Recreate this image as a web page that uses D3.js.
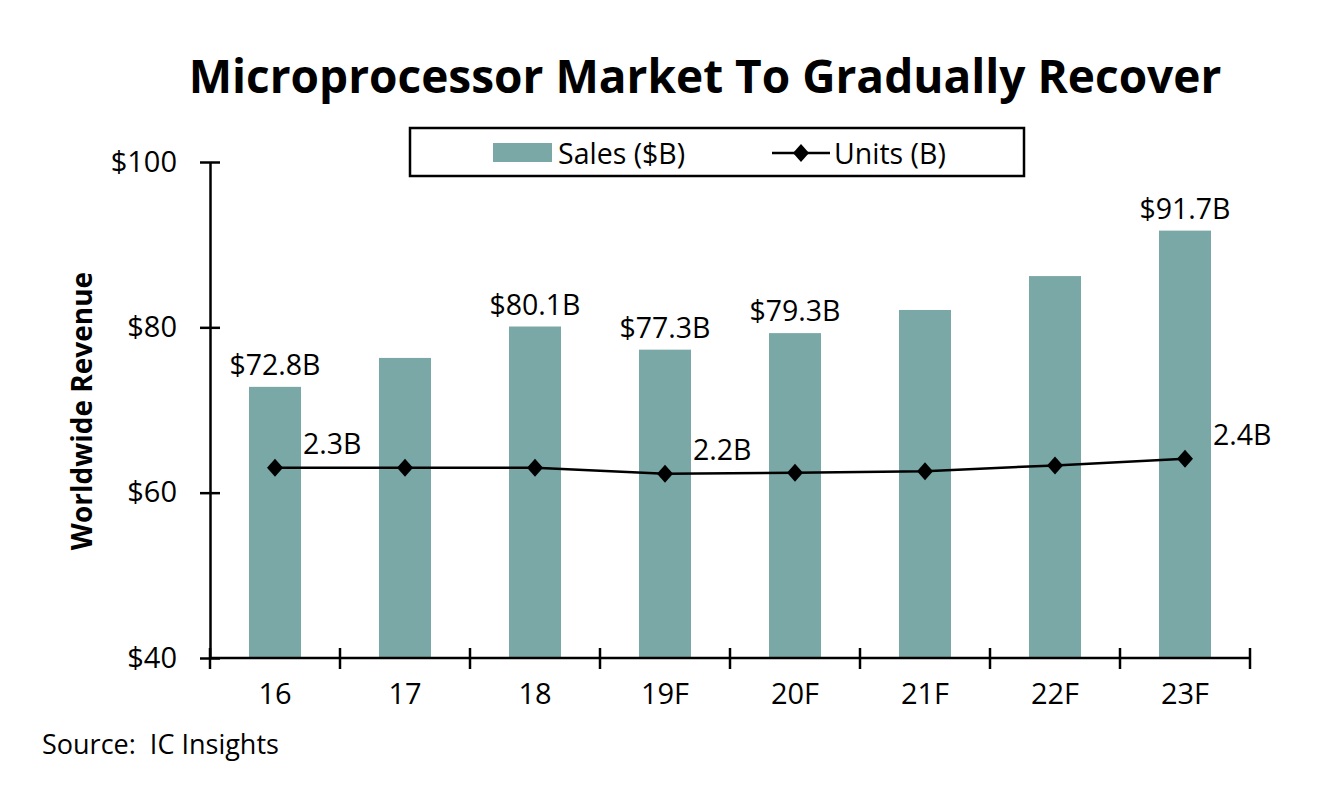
<!DOCTYPE html>
<html>
<head>
<meta charset="utf-8">
<script src="https://d3js.org/d3.v7.min.js"></script>
<style>
    body { margin: 0; background: #fff; }
    svg text { font-family: "Open Sans", sans-serif; fill: #000; }
    .axis path { stroke: #000; stroke-width: 2.5px; }
    .axis line { stroke: #000; stroke-width: 2.5px; }
    .axis text { font-size: 29px; }
</style>
</head>
<body>
<script>
    // data
    const categories = ["16", "17", "18", "19F", "20F", "21F", "22F", "23F"];
    const sales = [72.8, 76.3, 80.1, 77.3, 79.3, 82.1, 86.2, 91.7];
    const salesLabels = ["$72.8B", "", "$80.1B", "$77.3B", "$79.3B", "", "", "$91.7B"];
    const units = [2.30, 2.30, 2.30, 2.23, 2.24, 2.26, 2.33, 2.41];
    const unitLabels = ["2.3B", "", "", "2.2B", "", "", "", "2.4B"];
    const yTicks = [40, 60, 80, 100];

    const width = 1334, height = 798;
    const plotLeft = 210, plotRight = 1250, plotTop = 162, plotBottom = 658;

    const svg = d3.select("body").append("svg")
        .attr("width", width)
        .attr("height", height);

    // scales
    let x = d3.scaleBand()
        .domain(categories)
        .range([plotLeft, plotRight])
        .paddingInner(0.6)
        .paddingOuter(0.3);
    let xEdge = d3.scaleBand().domain(categories).range([plotLeft, plotRight]).padding(0);

    let y = d3.scaleLinear().domain([40, 100]).range([plotBottom, plotTop]);
    // hidden secondary axis for units
    let y2 = d3.scaleLinear().domain([0, 6]).range([plotBottom, plotTop]);

    // title
    svg.append("text")
        .attr("x", 705).attr("y", 93)
        .attr("text-anchor", "middle")
        .style("font-size", "46px")
        .style("font-weight", "bold")
        .text("Microprocessor Market To Gradually Recover");

    // legend
    let lg = svg.append("g");
    lg.append("rect")
        .attr("x", 410).attr("y", 128).attr("width", 614).attr("height", 48)
        .attr("fill", "#fff").attr("stroke", "#000").attr("stroke-width", 2.5);
    lg.append("rect")
        .attr("x", 493).attr("y", 143).attr("width", 59).attr("height", 19)
        .attr("fill", "#79a8a6");
    lg.append("text").attr("x", 558).attr("y", 164).style("font-size", "28.5px").text("Sales ($B)");
    lg.append("line")
        .attr("x1", 772).attr("x2", 830).attr("y1", 153).attr("y2", 153)
        .attr("stroke", "#000").attr("stroke-width", 2.5);
    lg.append("path")
        .attr("d", "M0,-9L8,0L0,9L-8,0Z")
        .attr("transform", "translate(801,153)");
    lg.append("text").attr("x", 834).attr("y", 164).style("font-size", "28.5px").text("Units (B)");

    // bars
    svg.selectAll("rect.bar")
        .data(categories)
        .join("rect")
        .attr("class", "bar")
        .attr("x", d => x(d))
        .attr("width", x.bandwidth())
        .attr("y", (d, i) => y(sales[i]))
        .attr("height", (d, i) => y(40) - y(sales[i]))
        .attr("fill", "#79a8a6");

    svg.selectAll("text.slab")
        .data(categories)
        .join("text")
        .attr("class", "slab")
        .attr("x", d => x(d) + x.bandwidth() / 2)
        .attr("y", (d, i) => y(sales[i]) - 12)
        .attr("text-anchor", "middle")
        .style("font-size", "28.5px")
        .text((d, i) => salesLabels[i]);

    // y axis
    let yAxis = d3.axisLeft(y)
        .tickValues(yTicks)
        .tickFormat(d => "$" + d)
        .tickSizeInner(10)
        .tickSizeOuter(0)
        .tickPadding(23);
    let ya = svg.append("g")
        .attr("class", "axis")
        .attr("transform", "translate(" + plotLeft + ",0)")
        .call(yAxis);
    ya.selectAll(".tick line").attr("x1", 10);

    // x axis
    let xAxis = d3.axisBottom(x).tickSize(0).tickPadding(25);
    let xa = svg.append("g")
        .attr("class", "axis")
        .attr("transform", "translate(0," + plotBottom + ")")
        .call(xAxis);
    xa.select(".domain").attr("d", "M" + plotLeft + ",0H" + plotRight);
    let edges = categories.map(c => xEdge(c)).concat([plotRight]);
    xa.selectAll("line.edge")
        .data(edges)
        .join("line")
        .attr("class", "edge")
        .attr("x1", d => d).attr("x2", d => d)
        .attr("y1", -10).attr("y2", 11);

    // units line
    let line = d3.line()
        .x((d, i) => x(categories[i]) + x.bandwidth() / 2)
        .y(d => y2(d));
    svg.append("path")
        .datum(units)
        .attr("d", line)
        .attr("fill", "none")
        .attr("stroke", "#000")
        .attr("stroke-width", 2.5);
    svg.selectAll("path.mark")
        .data(units)
        .join("path")
        .attr("class", "mark")
        .attr("d", "M0,-9L8,0L0,9L-8,0Z")
        .attr("transform", (d, i) => "translate(" + (x(categories[i]) + x.bandwidth() / 2) + "," + y2(d) + ")");
    svg.selectAll("text.ulab")
        .data(units)
        .join("text")
        .attr("class", "ulab")
        .attr("x", (d, i) => x(categories[i]) + x.bandwidth() / 2 + 28)
        .attr("y", d => y2(d) - 14)
        .style("font-size", "28.5px")
        .text((d, i) => unitLabels[i]);

    // y axis title
    svg.append("text")
        .attr("transform", "translate(92,411) rotate(-90)")
        .attr("text-anchor", "middle")
        .style("font-size", "28px")
        .style("font-weight", "bold")
        .text("Worldwide Revenue");

    // source
    svg.append("text")
        .attr("x", 42).attr("y", 754)
        .style("font-size", "27px")
        .attr("xml:space", "preserve")
        .style("white-space", "pre")
        .text("Source:  IC Insights");
</script>
</body>
</html>
